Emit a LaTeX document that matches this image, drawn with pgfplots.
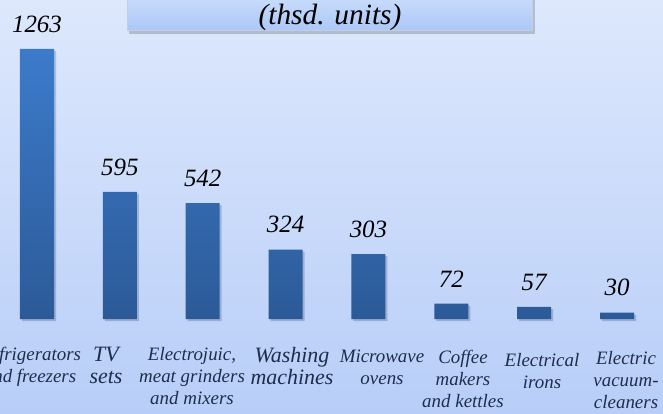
\documentclass[border=0pt]{standalone}
\usepackage{pgfplots}
\pgfplotsset{compat=1.18}
\usepackage{fontspec}
\setmainfont{Liberation Serif}

\definecolor{bgtop}{RGB}{221,232,252}
\definecolor{bgbot}{RGB}{184,206,248}
\definecolor{bartop}{RGB}{60,123,202}
\definecolor{barbot}{RGB}{44,90,152}
\definecolor{lbl}{RGB}{30,45,75}
\definecolor{boxtop}{RGB}{222,234,253}
\definecolor{boxbot}{RGB}{172,200,247}
\definecolor{boxline}{RGB}{196,206,222}

\begin{document}
\begin{tikzpicture}[x=1bp,y=1bp]
\path[use as bounding box] (0,0) rectangle (663,413);
\shade[top color=bgtop, bottom color=bgbot] (0,0) rectangle (663,413);

% title box (top line is cut off in the original)
\fill[black, opacity=0.18] (129,379) rectangle (535,440);
\shade[top color=boxtop, bottom color=boxbot, draw=boxline, line width=0.8bp] (127,383) rectangle (532,440);
\node[font=\fontsize{29.5}{32}\selectfont\itshape, text=black] at (330,396) {(thsd. units)};

\begin{axis}[
  at={(-4.43bp,94bp)}, anchor=south west,
  scale only axis, width=662.86bp, height=319bp,
  xmin=-0.5, xmax=7.5, ymin=0, ymax=1492,
  axis line style={draw=none},
  ymajorticks=false,
  major tick length=0pt,
  xtick={-0.084,0.833,1.871,3.078,4.164,5.141,6.095,7.109},
  xticklabels={
    {Refrigerators\\and freezers},
    {{\fontsize{22}{24}\selectfont TV}\\{\fontsize{22}{24}\selectfont sets}},
    {Electrojuic,\\meat grinders\\and mixers},
    {{\fontsize{22}{24}\selectfont Washing}\\{\fontsize{22}{24}\selectfont machines}},
    {\rule{0pt}{15bp}Microwave\\ovens},
    {\rule{0pt}{16bp}Coffee\\makers\\and kettles},
    {\rule{0pt}{19bp}Electrical\\irons},
    {\rule{0pt}{17bp}Electric\\vacuum-\\cleaners}},
  xticklabel style={align=center, anchor=north, yshift=-25bp, text=lbl,
    font=\fontsize{19}{22}\selectfont\itshape},
  /pgf/number format/.cd, 1000 sep={}, assume math mode=true, /pgfplots/.cd,
  nodes near coords,
  every node near coord/.append style={font=\fontsize{25}{28}\selectfont\itshape,
    text=black, yshift=13bp},
  clip=false,
]
\addplot[ybar, bar width=34bp, draw=none,
  preaction={fill=black, fill opacity=0.12, transform canvas={xshift=2bp, yshift=-2bp}},
  top color=bartop, bottom color=barbot]
  coordinates {(0,1263) (1,595) (2,542) (3,324) (4,303) (5,72) (6,57) (7,30)};
\end{axis}
\end{tikzpicture}
\end{document}
